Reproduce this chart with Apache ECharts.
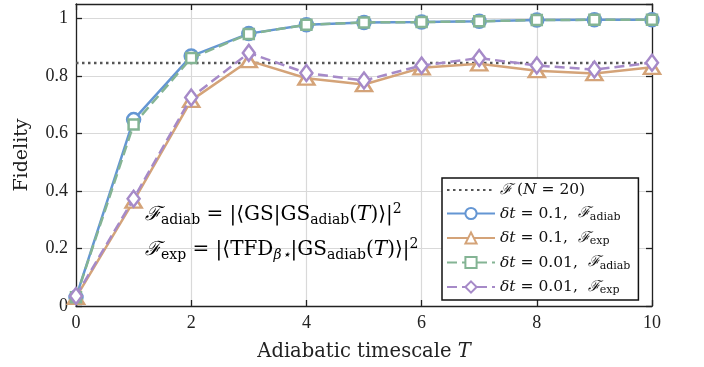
<!DOCTYPE html>
<html><head><meta charset="utf-8">
<script src="https://cdn.jsdelivr.net/npm/echarts@6/dist/echarts.min.js"></script>
<style>html,body{margin:0;padding:0;background:#fff}#c{width:704px;height:367px}</style>
</head><body><div id="c"></div>
<script>
const T = [0,1,2,3,4,5,6,7,8,9,10];
const adiab01 = [0.03, 0.648, 0.869, 0.947, 0.978, 0.986, 0.987, 0.990, 0.994, 0.995, 0.995];
const exp01   = [0.03, 0.365, 0.715, 0.853, 0.792, 0.770, 0.828, 0.842, 0.818, 0.808, 0.830];
const adiab001= [0.03, 0.631, 0.862, 0.946, 0.978, 0.986, 0.987, 0.990, 0.994, 0.995, 0.995];
const exp001  = [0.035, 0.373, 0.725, 0.880, 0.810, 0.784, 0.836, 0.862, 0.836, 0.822, 0.846];
const refLevel = 0.845;
const refX = [0, 10];

const FONT = '"Liberation Serif", serif';
const TFONT = '"DejaVu Serif", serif';
const cBlue='#6496d3', cOrange='#d4a378', cGreen='#84b494', cPurple='#a68ac8';
const pairs = ys => T.map((t,i)=>[t, ys[i]]);

const legendText = {
  ref: '{f|ℱ} {n|(}{i|N}{n| = 20)}',
  a01: '{i|δt}{n| = 0.1,  }{f|ℱ}{s|adiab}',
  e01: '{i|δt}{n| = 0.1,  }{f|ℱ}{s|exp}',
  a001: '{i|δt}{n| = 0.01,  }{f|ℱ}{s|adiab}',
  e001: '{i|δt}{n| = 0.01,  }{f|ℱ}{s|exp}'
};
const rich = {
  n:{fontFamily:TFONT,fontSize:15.5,lineHeight:18,color:'#111'},
  i:{fontFamily:TFONT,fontSize:15.5,lineHeight:18,fontStyle:'italic',color:'#111'},
  f:{fontFamily:TFONT,fontSize:15,lineHeight:18,fontStyle:'italic',color:'#111'},
  s:{fontFamily:TFONT,fontSize:11,lineHeight:12,verticalAlign:'bottom',color:'#111'}
};
const richA = {
  n:{fontFamily:TFONT,fontSize:20,lineHeight:25,color:'#111'},
  i:{fontFamily:TFONT,fontSize:20,lineHeight:25,fontStyle:'italic',color:'#111'},
  f:{fontFamily:TFONT,fontSize:19.5,lineHeight:25,fontStyle:'italic',color:'#111'},
  s:{fontFamily:TFONT,fontSize:14,lineHeight:15,verticalAlign:'bottom',color:'#111'},
  si:{fontFamily:TFONT,fontSize:14,lineHeight:15,verticalAlign:'bottom',fontStyle:'italic',color:'#111'},
  p:{fontFamily:TFONT,fontSize:14,lineHeight:15,verticalAlign:'top',color:'#111'}
};

const chart = echarts.init(document.getElementById('c'), null, {renderer:'canvas'});
const symStyle = c => ({color:'#fff', borderColor:c, borderWidth:2.5});
const frameAxis = {
  axisLine:{show:true,onZero:false,lineStyle:{color:'#222',width:1.3}},
  axisTick:{show:true,inside:true,length:6,lineStyle:{color:'#222',width:1.3}},
  axisLabel:{show:false}, splitLine:{show:false}
};
chart.setOption({
  animation:false,
  grid:{left:76, right:52, top:4, bottom:60, show:false},
  xAxis:[{
    type:'value', min:0, max:10, interval:2,
    name:'{n|Adiabatic timescale }{i|T}', nameLocation:'middle', nameGap:36,
    nameTextStyle:{rich:{n:{fontFamily:TFONT,fontSize:19.5,color:'#222'},i:{fontFamily:TFONT,fontSize:19.5,fontStyle:'italic',color:'#222'}}},
    axisLine:{onZero:false,lineStyle:{color:'#222',width:1.3}},
    axisTick:{inside:true,length:6,lineStyle:{color:'#222',width:1.3}},
    axisLabel:{fontFamily:FONT,fontSize:18,color:'#222',margin:8},
    splitLine:{show:true,lineStyle:{color:'#d9d9d9',width:1.2}}
  }, Object.assign({type:'value', min:0, max:10, interval:2, position:'top'}, frameAxis)],
  yAxis:[{
    type:'value', min:0, max:1.05, interval:0.2,
    name:'Fidelity', nameLocation:'middle', nameGap:44,
    nameTextStyle:{fontFamily:TFONT,fontSize:19,color:'#222'},
    axisLine:{show:true,onZero:false,lineStyle:{color:'#222',width:1.3}},
    axisTick:{show:true,inside:true,length:6,lineStyle:{color:'#222',width:1.3}},
    axisLabel:{fontFamily:FONT,fontSize:18,color:'#222',margin:8,showMaxLabel:false,
      formatter:v=> (Math.abs(v-1.05)<1e-6?'':String(Math.round(v*10)/10))},
    splitLine:{show:true,lineStyle:{color:'#d9d9d9',width:1.2}}
  }, Object.assign({type:'value', min:0, max:1.05, interval:0.2, position:'right'}, frameAxis)],
  legend:{
    orient:'vertical', left:442, top:178,
    backgroundColor:'#fff', borderColor:'#111', borderWidth:1.5,
    padding:[4,8,4,4], itemWidth:48, itemHeight:14, itemGap:7.5,
    data:[{name:'ref', itemStyle:{opacity:0}}, 'a01','e01','a001','e001'],
    formatter:n=>legendText[n],
    textStyle:{rich:rich, fontFamily:TFONT, fontSize:15.5}
  },
  graphic:[
    {type:'text', left:145, top:202, z:100, style:{
      text:'{f|ℱ}{s|adiab}{n| = |⟨GS|GS}{s|adiab}{n|(}{i|T}{n|)⟩|}{p|2}', rich:richA}},
    {type:'text', left:145, top:237, z:100, style:{
      text:'{f|ℱ}{s|exp}{n| = |⟨TFD}{si|β⋆}{n||GS}{s|adiab}{n|(}{i|T}{n|)⟩|}{p|2}', rich:richA}}
  ],
  series:[
    {name:'ref', type:'line', data:refX.map(x=>[x,refLevel]), symbol:'none', z:1,
      lineStyle:{color:'#555',width:2.5,type:[2.5,3.5]}, itemStyle:{color:'#555'}},
    {name:'a01', type:'line', data:pairs(adiab01), symbol:'circle', symbolSize:13, z:2,
      lineStyle:{color:cBlue,width:2.5}, itemStyle:symStyle(cBlue)},
    {name:'e01', type:'line', data:pairs(exp01), symbol:'triangle', symbolSize:[16,13], z:3,
      lineStyle:{color:cOrange,width:2.5}, itemStyle:symStyle(cOrange)},
    {name:'a001', type:'line', data:pairs(adiab001), symbol:'rect', symbolSize:10, z:4,
      lineStyle:{color:cGreen,width:2.5,type:[10,5]}, itemStyle:symStyle(cGreen)},
    {name:'e001', type:'line', data:pairs(exp001), symbol:'diamond', symbolSize:[12,16], z:5,
      lineStyle:{color:cPurple,width:2.5,type:[10,5]}, itemStyle:symStyle(cPurple)},
    {name:'frame', type:'line', xAxisIndex:1, yAxisIndex:1, data:[], silent:true}
  ]
});
</script></body></html>
